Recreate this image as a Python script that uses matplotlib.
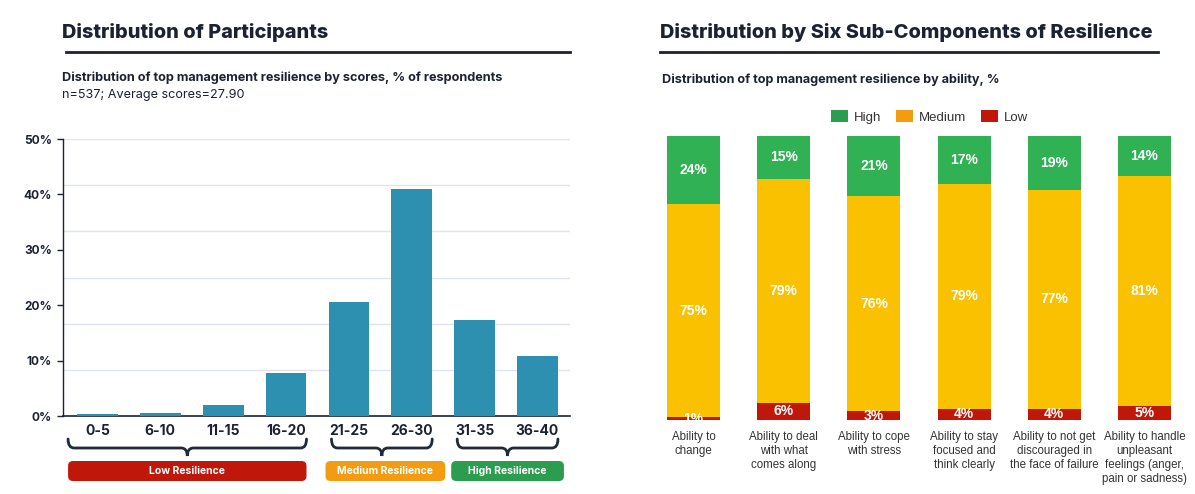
import matplotlib
matplotlib.use("Agg")
import matplotlib.pyplot as plt
from matplotlib.patches import FancyBboxPatch, Patch, PathPatch
from matplotlib.path import Path
from matplotlib.transforms import Affine2D
import numpy as np

# ---------------- data ----------------
score_bins = ["0-5", "6-10", "11-15", "16-20", "21-25", "26-30", "31-35", "36-40"]
score_pct = [0.3, 0.5, 1.9, 7.8, 20.6, 41.0, 17.3, 10.8]
y_ticks = [0, 10, 20, 30, 40, 50]
y_tick_labels = ["0%", "10%", "20%", "30%", "40%", "50%"]

groups = ["Low Resilience", "Medium Resilience", "High Resilience"]
group_first = [0, 4, 6]
group_last = [3, 5, 7]

abilities = ["Ability to\nchange", "Ability to deal\nwith what\ncomes along",
             "Ability to cope\nwith stress", "Ability to stay\nfocused and\nthink clearly",
             "Ability to not get\ndiscouraged in\nthe face of failure",
             "Ability to handle\nunpleasant\nfeelings (anger,\npain or sadness)"]
low = [1, 6, 3, 4, 4, 5]
medium = [75, 79, 76, 79, 77, 81]
high = [24, 15, 21, 17, 19, 14]
series_names = ["High", "Medium", "Low"]

# ---------------- style ----------------
W, H = 1195, 494
DARK = "#1b2232"
BAR_BLUE = "#2d90b0"
C_HIGH, C_MED, C_LOW = "#30b254", "#f9c100", "#c0170b"
L_HIGH, L_MED, L_LOW = "#2a9d4e", "#f39c12", "#c0170b"
PILL_COLORS = ["#c0170b", "#f39c12", "#2a9d4e"]

fig = plt.figure(figsize=(W / 100, H / 100), dpi=100)
fig.patch.set_facecolor("white")
# pixel transform: (x, y-from-top) in px -> figure
PX = Affine2D().scale(1, -1).translate(0, H).scale(1 / W, 1 / H) + fig.transFigure

HEAD = ["Inter", "DejaVu Sans"]
ARIAL = ["Liberation Sans", "DejaVu Sans"]

# headers
fig.text(62, 32, "Distribution of Participants", transform=PX, family=HEAD,
         fontsize=14.35, fontweight="heavy", color=DARK, va="center", ha="left")
fig.add_artist(plt.Line2D([66, 570], [52, 52], transform=PX, color=DARK, lw=2))
fig.text(660, 32, "Distribution by Six Sub-Components of Resilience", transform=PX,
         family=HEAD, fontsize=14.35, fontweight="heavy", color=DARK, va="center", ha="left")
fig.add_artist(plt.Line2D([660, 1158], [52, 52], transform=PX, color=DARK, lw=2))

fig.text(62, 78, "Distribution of top management resilience by scores, % of respondents",
         transform=PX, family=HEAD, fontsize=9.15, fontweight="bold", color=DARK, va="center")
fig.text(62, 95, "n=537; Average scores=27.90", transform=PX, family=HEAD,
         fontsize=9.1, color=DARK, va="center")
fig.text(662, 80, "Distribution of top management resilience by ability, %", transform=PX,
         family=HEAD, fontsize=9.1, fontweight="bold", color=DARK, va="center")

# ---------------- left chart ----------------
axL_left, axL_right, axL_top, axL_bot = 63, 570, 139, 416
axL = fig.add_axes([axL_left / W, (H - axL_bot) / H, (axL_right - axL_left) / W,
                    (axL_bot - axL_top) / H])
axL.set_facecolor("none")
x = np.arange(len(score_bins))
axL.bar(x, score_pct, width=0.65, color=BAR_BLUE, zorder=3)
sp = (537.5 - 97.5) / 7
axL.set_xlim((axL_left - 97.5) / sp, (axL_right - 97.5) / sp)
axL.set_ylim(0, 50)
for g in np.linspace(0, 50, 7)[1:]:
    axL.axhline(g, color="#dfe4ee", lw=1, zorder=1)
axL.set_yticks(y_ticks)
axL.set_yticklabels(y_tick_labels, family=HEAD, fontsize=8.6, fontweight="bold", color=DARK)
axL.set_xticks(x)
axL.set_xticklabels(score_bins, family=HEAD, fontsize=10, fontweight="bold", color=DARK)
axL.tick_params(axis="x", length=0, pad=6)
axL.tick_params(axis="y", length=4, width=1, color=DARK, pad=4)
for s in ["top", "right"]:
    axL.spines[s].set_visible(False)
axL.spines["left"].set_color(DARK)
axL.spines["bottom"].set_color(DARK)
axL.spines["left"].set_linewidth(1)
axL.spines["bottom"].set_linewidth(1.2)


def data_to_px(xd):
    disp = axL.transData.transform((xd, 0))
    return disp[0] * W / fig.bbox.width


def brace(x0, x1, yt=439, ym=448, yb=456, r=6):
    xc = (x0 + x1) / 2
    verts = [(x0, yt), (x0, ym), (x0 + r, ym),
             (xc - r, ym), (xc, ym), (xc, yb),
             (xc, ym), (xc + r, ym),
             (x1 - r, ym), (x1, ym), (x1, yt)]
    codes = [Path.MOVETO, Path.CURVE3, Path.CURVE3,
             Path.LINETO, Path.CURVE3, Path.CURVE3,
             Path.CURVE3, Path.CURVE3,
             Path.LINETO, Path.CURVE3, Path.CURVE3]
    fig.add_artist(PathPatch(Path(verts, codes), transform=PX, fill=False,
                             edgecolor="#1f2a3a", lw=2, capstyle="round"))


pill_pad = [(9, 0), (3, 13), (3, 6)]
for gi, name in enumerate(groups):
    xa = data_to_px(group_first[gi] - 0.325)
    xb = data_to_px(group_last[gi] + 0.325)
    brace(xa - 9 if gi == 0 else xa + 3, xb)
    pa = xa - pill_pad[gi][0]
    pb = xb + pill_pad[gi][1]
    fig.add_artist(FancyBboxPatch((pa, 461), pb - pa, 20, transform=PX,
                                  boxstyle="round,pad=0,rounding_size=5",
                                  facecolor=PILL_COLORS[gi], edgecolor="none"))
    fig.text((pa + pb) / 2, 471, name, transform=PX, family=HEAD, fontsize=7.5,
             fontweight="bold", color="white", ha="center", va="center")

# ---------------- right chart ----------------
cx0, dx = 693.5, 90.2
axR_left, axR_right = cx0 - dx / 2, cx0 + 5.5 * dx
axR_top, axR_bot = 136, 420
axR = fig.add_axes([axR_left / W, (H - axR_bot) / H, (axR_right - axR_left) / W,
                    (axR_bot - axR_top) / H])
axR.set_facecolor("none")
xr = np.arange(len(abilities))
bw = 53 / dx
lowa, meda, higha = np.array(low), np.array(medium), np.array(high)
axR.bar(xr, lowa, width=bw, color=C_LOW)
axR.bar(xr, meda, width=bw, bottom=lowa, color=C_MED)
axR.bar(xr, higha, width=bw, bottom=lowa + meda, color=C_HIGH)
axR.set_xlim(-0.5, 5.5)
axR.set_ylim(0, 100)
axR.axis("off")
for i in xr:
    for val, base in ((low[i], 0), (medium[i], low[i]), (high[i], low[i] + medium[i])):
        axR.text(i, base + val / 2, f"{val}%", ha="center", va="center", color="white",
                 family=ARIAL, fontsize=10, fontweight="bold", clip_on=True)
    axR.text(i, -4, abilities[i], ha="center", va="top", color="#333333",
             family=ARIAL, fontsize=8.3, linespacing=1.2, clip_on=False)

handles = [Patch(facecolor=L_HIGH), Patch(facecolor=L_MED), Patch(facecolor=L_LOW)]
leg = axR.legend(handles, series_names, loc="center", bbox_to_anchor=(0.519, 1.067),
                 ncol=3, frameon=False, handlelength=1.3, handleheight=1.0,
                 handletextpad=0.45, columnspacing=1.1,
                 prop={"family": ARIAL, "size": 9.5})
for t in leg.get_texts():
    t.set_color("#333333")

fig.savefig("out.png", dpi=100)
